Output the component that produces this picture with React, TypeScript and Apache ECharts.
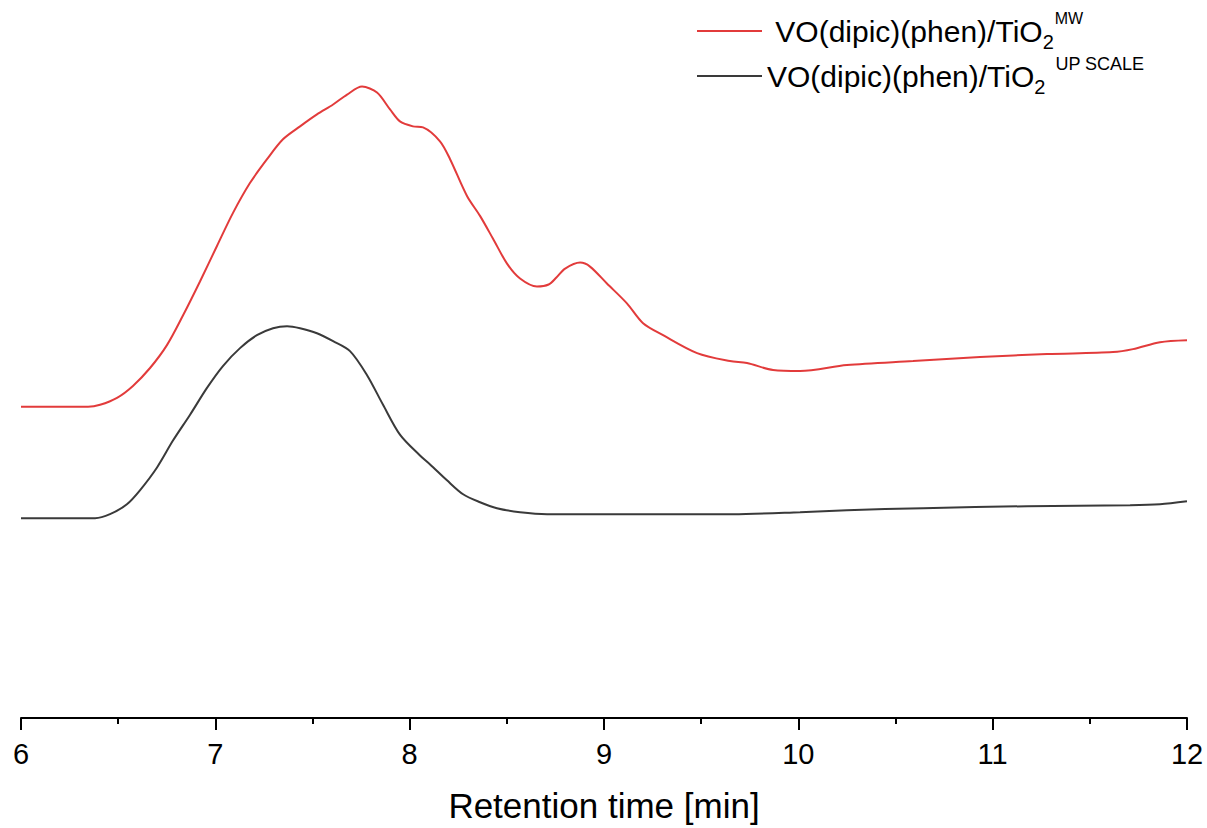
import React, { useEffect, useRef } from "react";
import * as echarts from "echarts";

// Series names
const seriesNames = ["VO(dipic)(phen)/TiO2 MW", "VO(dipic)(phen)/TiO2 UP SCALE"];

// Red trace (MW) – retention time [min] and detector signal [a.u.]
const mwTime = [
  6.0, 6.345, 6.407, 6.494, 6.576, 6.664, 6.751, 6.834, 6.921, 7.009, 7.091, 7.178,
  7.266, 7.348, 7.436, 7.523, 7.606, 7.678, 7.755, 7.832, 7.899, 7.95, 8.017, 8.069,
  8.156, 8.208, 8.295, 8.362, 8.429, 8.501, 8.568, 8.655, 8.715, 8.755, 8.8, 8.877, 8.928,
  9.015, 9.118, 9.201, 9.304, 9.479, 9.648, 9.736, 9.87, 10.009, 10.25, 10.59,
  10.935, 11.28, 11.619, 11.722, 11.861, 12.0,
];
const mwSignal = [
  313, 313, 315, 322, 334, 352, 375, 405, 439, 475, 508, 538,
  562, 582, 595, 607, 617, 627, 635, 629, 612, 600, 595, 594,
  580, 562, 525, 505, 482, 457, 442, 434, 436, 443, 452, 458, 454,
  437, 417, 397, 385, 367, 359, 357, 350, 349, 355, 359,
  363, 366, 368, 371, 378, 380,
];

// Black trace (UP SCALE)
const upTime = [
  6.0, 6.381, 6.458, 6.545, 6.612, 6.7, 6.782, 6.87, 6.957, 7.039, 7.127, 7.214,
  7.297, 7.369, 7.436, 7.523, 7.606, 7.693, 7.78, 7.863, 7.95, 8.053, 8.105, 8.192,
  8.275, 8.362, 8.449, 8.568, 8.707, 9.664, 10.009, 10.25, 10.642, 11.177, 11.707,
  11.861, 12.0,
];
const upSignal = [
  201, 201, 205, 215, 229, 252, 279, 305, 332, 354, 372, 385,
  392, 394, 392, 387, 379, 369, 345, 315, 285, 264, 255, 239,
  225, 217, 211, 207, 205, 205, 207, 209, 211, 213, 214,
  215, 218,
];

const xTicks = { min: 6, max: 12, interval: 1 };
const axisTitle = "Retention time [min]";

const FONT = "'Liberation Sans', Arial, Helvetica, sans-serif";

export default function App() {
  const ref = useRef<HTMLDivElement>(null);
  useEffect(() => {
    if (!ref.current) return;
    const chart = echarts.init(ref.current, null, { renderer: "svg" });
    const pair = (xs: number[], ys: number[]) => xs.map((x, i) => [x, ys[i]]);
    chart.setOption({
      animation: false,
      backgroundColor: "#ffffff",
      grid: { left: 21, right: 20, top: 20, bottom: 106, containLabel: false },
      legend: {
        show: true,
        orient: "vertical",
        left: 697,
        top: 10,
        padding: 0,
        icon: "rect",
        itemWidth: 65,
        itemHeight: 2,
        itemGap: 3,
        data: seriesNames,
        formatter: (name: string) =>
          name === seriesNames[0]
            ? " VO(dipic)(phen)/TiO{sub|2}{sup1|MW}"
            : "VO(dipic)(phen)/TiO{sub|2}{sup2|UP SCALE}",
        textStyle: {
          fontFamily: FONT,
          fontSize: 30,
          color: "#000",
          lineHeight: 42,
          rich: {
            sub: { fontFamily: FONT, fontSize: 20, color: "#000", lineHeight: 20, verticalAlign: "bottom" },
            sup1: { fontFamily: FONT, fontSize: 16, color: "#000", lineHeight: 18, verticalAlign: "top", padding: [0, 0, 0, 1] },
            sup2: { fontFamily: FONT, fontSize: 18, color: "#000", lineHeight: 20, verticalAlign: "top", padding: [0, 0, 0, 10] },
          },
        },
      },
      xAxis: {
        type: "value",
        min: xTicks.min,
        max: xTicks.max,
        interval: xTicks.interval,
        name: axisTitle,
        nameLocation: "middle",
        nameGap: 70,
        nameTextStyle: { fontFamily: FONT, fontSize: 35, color: "#000" },
        axisLine: { show: true, onZero: false, lineStyle: { color: "#000", width: 2 } },
        axisTick: { show: true, length: 12, lineStyle: { color: "#000", width: 2 } },
        minorTick: { show: true, splitNumber: 2, length: 6, lineStyle: { color: "#000", width: 2 } },
        axisLabel: { fontFamily: FONT, fontSize: 29, color: "#000", margin: 21 },
        splitLine: { show: false },
        minorSplitLine: { show: false },
      },
      yAxis: {
        type: "value",
        min: 0,
        max: 702,
        show: false,
        splitLine: { show: false },
      },
      series: [
        {
          name: seriesNames[0],
          type: "line",
          data: pair(mwTime, mwSignal),
          symbol: "none",
          showSymbol: false,
          smooth: 0.3,
          lineStyle: { color: "#e23b3b", width: 2 },
          itemStyle: { color: "#e23b3b" },
        },
        {
          name: seriesNames[1],
          type: "line",
          data: pair(upTime, upSignal),
          symbol: "none",
          showSymbol: false,
          smooth: 0.3,
          lineStyle: { color: "#3a3a3a", width: 2 },
          itemStyle: { color: "#3a3a3a" },
        },
      ],
    });
    return () => chart.dispose();
  }, []);
  return (
    <div
      ref={ref}
      style={{ position: "fixed", left: 0, top: 0, width: 1207, height: 828, background: "#fff" }}
    />
  );
}
